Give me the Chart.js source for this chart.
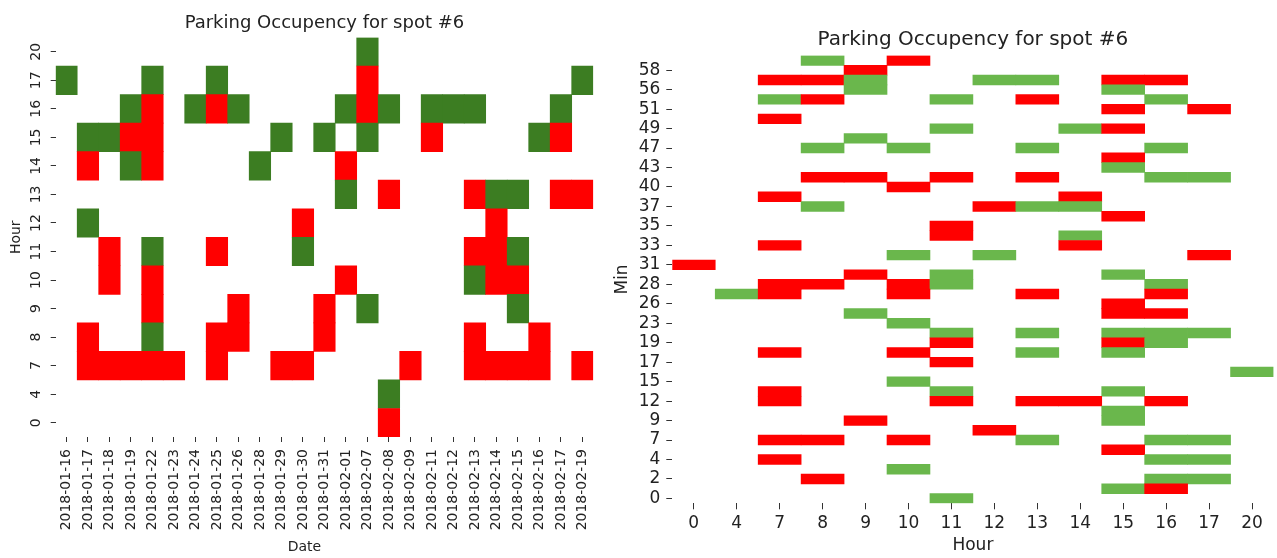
<!DOCTYPE html>
<html>
<head>
<meta charset="utf-8">
<title>Parking Occupency for spot #6</title>
<script src="https://cdn.jsdelivr.net/npm/chart.js@4.4.1/dist/chart.umd.min.js"></script>
<style>
  html, body { margin: 0; padding: 0; background: #fff; }
  #wrap { position: relative; width: 1277px; height: 558px; }
  canvas { position: absolute; top: 0; }
  #byDate { left: 0; }
  #byMinute { left: 610px; }
</style>
</head>
<body>
<div id="wrap">
  <canvas id="byDate" width="610" height="558"></canvas>
  <canvas id="byMinute" width="667" height="558"></canvas>
</div>
<script>
const RED = '#ff0000';
const DARK_GREEN = '#3c7d22';
const LIGHT_GREEN = '#6ab74c';
const TEXT = '#222';
const TICK = '#333';
const FONT = 'DejaVu Sans';

// ---- left heatmap: hour of day per date ----
const dates = [
  '2018-01-16', '2018-01-17', '2018-01-18', '2018-01-19', '2018-01-22',
  '2018-01-23', '2018-01-24', '2018-01-25', '2018-01-26', '2018-01-28',
  '2018-01-29', '2018-01-30', '2018-01-31', '2018-02-01', '2018-02-07',
  '2018-02-08', '2018-02-09', '2018-02-11', '2018-02-12', '2018-02-13',
  '2018-02-14', '2018-02-15', '2018-02-16', '2018-02-17', '2018-02-19'
];
const hours = [0, 4, 7, 8, 9, 10, 11, 12, 13, 14, 15, 16, 17, 20];

// one string per hour, top row (20h) first, one char per date
// R = occupied, G = free, . = nothing recorded
const dateHourGrid = [
  '..............G..........', // 20
  'G...G..G......R.........G', // 17
  '...GR.GRG....GRG.GGG...G.', // 16
  '.GGRR.....G.G.G..R....GR.', // 15
  '.R.GR....G...R...........', // 14
  '.............G.R...RGG.RR', // 13
  '.G.........R........R....', // 12
  '..R.G..R...G.......RRG...', // 11
  '..R.R........R.....GRR...', // 10
  '....R...R...R.G......G...', // 9
  '.R..G..RR...R......R..R..', // 8
  '.RRRRR.R..RR....R..RRRR.R', // 7
  '...............G.........', // 4
  '...............R.........'  // 0
];

// ---- right heatmap: minute per hour ----
const hourLabels = ['0', '4', '7', '8', '9', '10', '11', '12', '13', '14', '15', '16', '17', '20'];
const minutes = [
  0, 1, 2, 3, 4, 6, 7, 8, 9, 11, 12, 14, 15, 16, 17, 18, 19, 21, 23, 25, 26, 27, 28,
  30, 31, 32, 33, 34, 35, 36, 37, 39, 40, 42, 43, 45, 47, 48, 49, 50, 51, 54, 56, 57, 58, 59
];

// one string per minute, top row (59) first, one char per hour
const hourMinuteGrid = [
  '...G.R........', // 59
  '....R.........', // 58
  '..RRG..GG.RR..', // 57
  '....G.....G...', // 56
  '..GR..G.R..G..', // 54
  '..........R.R.', // 51
  '..R...........', // 50
  '......G..GR...', // 49
  '....G.........', // 48
  '...G.G..G..G..', // 47
  '..........R...', // 45
  '..........G...', // 43
  '...RR.R.R..GG.', // 42
  '.....R........', // 40
  '..R......R....', // 39
  '...G...RGG....', // 37
  '..........R...', // 36
  '......R.......', // 35
  '......R..G....', // 34
  '..R......R....', // 33
  '.....G.G....R.', // 32
  'R.............', // 31
  '....R.G...G...', // 30
  '..RR.RG....G..', // 28
  '.GR..R..R..R..', // 27
  '..........R...', // 26
  '....G.....RR..', // 25
  '.....G........', // 23
  '......G.G.GGG.', // 21
  '......R...RG..', // 19
  '..R..R..G.G...', // 18
  '......R.......', // 17
  '.............G', // 16
  '.....G........', // 15
  '..R...G...G...', // 14
  '..R...R.RR.R..', // 12
  '..........G...', // 11
  '....R.....G...', // 9
  '.......R......', // 8
  '..RR.R..G..GG.', // 7
  '..........R...', // 6
  '..R........GG.', // 4
  '.....G........', // 3
  '...R.......GG.', // 2
  '..........GR..', // 1
  '......G.......'  // 0
];

// turn a grid into floating bars: each cell spans one row band on the y axis
function cells(grid, xLabels, green) {
  const n = grid.length;
  const points = [];
  const colors = [];
  grid.forEach((row, r) => {
    const y = n - 1 - r;
    for (let c = 0; c < row.length; c++) {
      if (row[c] === '.') continue;
      points.push({ x: xLabels[c], y: [y - 0.5, y + 0.5] });
      colors.push(row[c] === 'R' ? RED : green);
    }
  });
  return { points, colors };
}

function font(size) {
  return { family: FONT, size: size, weight: 'normal' };
}

function tickGrid(len) {
  return { display: true, drawOnChartArea: false, offset: false, tickLength: len, tickColor: TICK, tickWidth: 1 };
}

Chart.defaults.font.family = FONT;
Chart.defaults.color = TEXT;

const left = cells(dateHourGrid, dates, DARK_GREEN);

new Chart(document.getElementById('byDate'), {
  type: 'bar',
  data: {
    labels: dates,
    datasets: [{
      data: left.points,
      backgroundColor: left.colors,
      borderWidth: 0,
      barPercentage: 1,
      categoryPercentage: 1
    }]
  },
  options: {
    responsive: false,
    animation: false,
    layout: { autoPadding: false, padding: { top: 12.1, right: 16.8, bottom: 0, left: 0 } },
    plugins: {
      legend: { display: false },
      tooltip: { enabled: false },
      title: {
        display: true,
        fullSize: false, // centre over the cells, not the canvas
        text: 'Parking Occupency for spot #6',
        color: TEXT,
        font: font(18),
        padding: { top: 0, bottom: 3.8 }
      }
    },
    scales: {
      x: {
        offset: true,
        grid: tickGrid(5),
        border: { display: false },
        ticks: { autoSkip: false, minRotation: 90, maxRotation: 90, padding: 7, color: TEXT, font: font(14) },
        title: { display: true, text: 'Date         ', color: TEXT, font: font(14), padding: { top: 0, bottom: 2 } },
        afterFit: s => { s.height = 121; }
      },
      y: {
        type: 'linear',
        min: -0.5,
        max: hours.length - 0.5,
        afterBuildTicks: s => { s.ticks = hours.map((h, i) => ({ value: i })); },
        grid: tickGrid(5),
        border: { display: false },
        ticks: {
          autoSkip: false,
          minRotation: 90,
          maxRotation: 90,
          crossAlign: 'center',
          padding: 5,
          color: TEXT,
          font: font(14),
          callback: v => hours[v]
        },
        title: { display: true, text: 'Hour', color: TEXT, font: font(14), padding: { top: 8, bottom: 0 } },
        afterFit: s => { s.width = 55.7; }
      }
    }
  }
});

const right = cells(hourMinuteGrid, hourLabels, LIGHT_GREEN);

new Chart(document.getElementById('byMinute'), {
  type: 'bar',
  data: {
    labels: hourLabels,
    datasets: [{
      data: right.points,
      backgroundColor: right.colors,
      borderWidth: 0,
      barPercentage: 1,
      categoryPercentage: 1
    }]
  },
  options: {
    responsive: false,
    animation: false,
    layout: { autoPadding: false, padding: { top: 28, right: 3.5, bottom: 0, left: 0 } },
    plugins: {
      legend: { display: false },
      tooltip: { enabled: false },
      title: {
        display: true,
        fullSize: false,
        text: 'Parking Occupency for spot #6',
        color: TEXT,
        font: font(20),
        padding: { top: 0, bottom: 3.6 }
      }
    },
    scales: {
      x: {
        offset: true,
        grid: tickGrid(6),
        border: { display: false },
        ticks: { autoSkip: false, maxRotation: 0, minRotation: 0, padding: 4, color: TEXT, font: font(17) },
        title: { display: true, text: 'Hour', color: TEXT, font: font(17), padding: { top: 0, bottom: 2 } },
        afterFit: s => { s.height = 54.7; }
      },
      y: {
        type: 'linear',
        min: -0.5,
        max: minutes.length - 0.5,
        // every other minute row gets a label
        afterBuildTicks: s => {
          s.ticks = minutes.map((m, i) => i).filter(i => i % 2 === 0).map(i => ({ value: i }));
        },
        grid: tickGrid(6),
        border: { display: false },
        ticks: { autoSkip: false, padding: 6, color: TEXT, font: font(17), callback: v => minutes[v] },
        title: { display: true, text: 'Min', color: TEXT, font: font(17), padding: { top: 2, bottom: 0 } },
        afterFit: s => { s.width = 62.3; }
      }
    }
  }
});
</script>
</body>
</html>
